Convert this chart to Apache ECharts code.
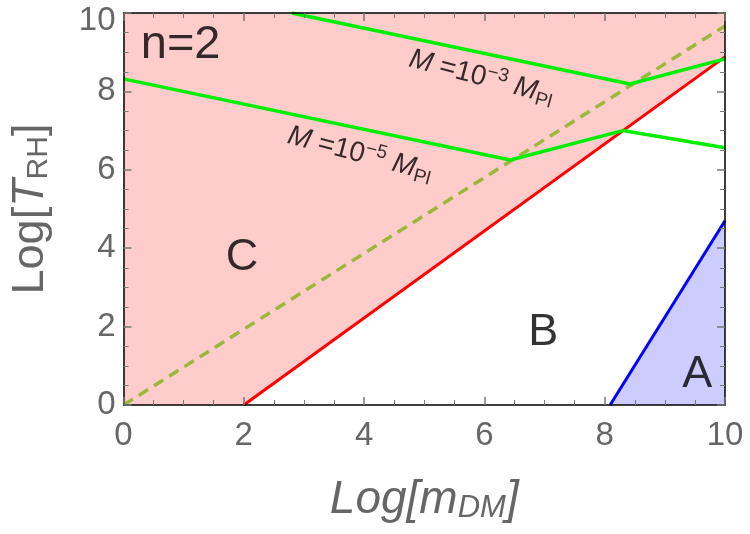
<!DOCTYPE html>
<html lang="en">
<head>
<meta charset="UTF-8">
<title>n=2</title>
<script src="https://cdn.jsdelivr.net/npm/echarts@6/dist/echarts.min.js"></script>
<style>
    html, body { margin: 0; padding: 0; background: #fff; }
    #chart { width: 750px; height: 534px; }
</style>
</head>
<body>
<div id="chart"></div>
<script>
// tick values
var xTicks = [0, 2, 4, 6, 8, 10];
var yTicks = [0, 2, 4, 6, 8, 10];

// boundary lines, points are [Log m_DM, Log T_RH]
var redLine = [[2, 0], [10, 8.88]];
var dashedLine = [[0, 0], [10, 9.67]];
var blueLine = [[8.09, 0], [10, 4.7]];
var greenM5 = [[0, 8.32], [6.43, 6.25], [8.3, 7.0], [10, 6.56]];
var greenM3 = [[2.8, 10], [8.42, 8.19], [10, 8.83]];
var topEdge = [[0, 10], [10, 10]];

// text annotations (anchor in data units)
var regionNames = ['n=2', 'C', 'B', 'A'];
var regionAt = [[0.95, 9.18], [1.97, 3.75], [6.98, 1.84], [9.54, 0.77]];
var massNames = ['{it|M} =10{sup|\u22125} {it|M}{sub|Pl}', '{it|M} =10{sup|\u22123} {it|M}{sub|Pl}'];
var massAt = [[3.93, 6.4], [5.95, 8.36]];

var font = 'Liberation Sans, Arial, sans-serif';
var gray = '#666';

var chart = echarts.init(document.getElementById('chart'));

function axisBase(pos, showLabel) {
    return {
        type: 'value',
        position: pos,
        min: 0,
        max: 10,
        interval: 2,
        z: 10,
        axisLine: { show: true, onZero: false, lineStyle: { color: '#000', width: 1.5 } },
        axisTick: { show: true, inside: true, length: 8, lineStyle: { color: '#777', width: 1.5 } },
        minorTick: { show: true, splitNumber: 4, length: 5, lineStyle: { color: '#777', width: 1 } },
        splitLine: { show: false },
        axisLabel: {
            show: showLabel,
            fontFamily: font,
            fontSize: 33,
            color: gray
        }
    };
}

var xBottom = axisBase('bottom', true);
xBottom.axisLabel.margin = 14;
xBottom.name = 'Log[{it|m}{sub|DM}]';
xBottom.nameLocation = 'middle';
xBottom.nameGap = 72;
xBottom.nameTextStyle = {
    fontFamily: font, fontSize: 46, fontStyle: 'italic', color: gray,
    rich: {
        it: { fontFamily: font, fontSize: 46, fontStyle: 'italic', color: gray },
        sub: { fontFamily: font, fontSize: 31, fontStyle: 'italic', color: gray, verticalAlign: 'bottom', padding: [16, 0, 0, 0] }
    }
};

var yLeft = axisBase('left', true);
yLeft.axisLabel.margin = 8;
yLeft.axisLabel.formatter = function (v) { return v === 10 ? '{top|10}' : String(v); };
yLeft.axisLabel.rich = { top: { fontFamily: font, fontSize: 33, color: gray, padding: [16, 0, 0, 0] } };
yLeft.name = 'Log[{it|T}{sub|RH}]';
yLeft.nameLocation = 'middle';
yLeft.nameGap = 70;
yLeft.nameRotate = 90;
yLeft.nameTextStyle = {
    fontFamily: font, fontSize: 45, color: gray,
    rich: {
        it: { fontFamily: font, fontSize: 45, fontStyle: 'italic', color: gray },
        sub: { fontFamily: font, fontSize: 30, color: gray, verticalAlign: 'bottom', padding: [16, 0, 0, 0] }
    }
};

function lineSeries(data, color, width, type) {
    return {
        type: 'line', data: data, showSymbol: false, silent: true, z: 4,
        lineStyle: { color: color, width: width, type: type || 'solid' }
    };
}

function areaSeries(data, fill, z) {
    return {
        type: 'line', data: data, showSymbol: false, silent: true, z: z,
        lineStyle: { width: 0 },
        areaStyle: { color: fill, opacity: 1 }
    };
}

var textData = regionNames.map(function (t, i) {
    return {
        value: regionAt[i],
        label: { formatter: t, fontSize: i === 0 ? 47 : 45 }
    };
}).concat(massNames.map(function (t, i) {
    return {
        value: massAt[i],
        label: { formatter: t, fontSize: 28, rotate: -14.7 }
    };
}));

chart.setOption({
    animation: false,
    backgroundColor: '#fff',
    grid: { left: 121, right: 25, top: 13, bottom: 129 },
    xAxis: [xBottom, axisBase('top', false)],
    yAxis: [yLeft, axisBase('right', false)],
    series: [
        areaSeries(topEdge, '#ffcccc', 1),
        areaSeries(redLine, '#ffffff', 2),
        areaSeries(blueLine, '#ccccff', 3),
        lineSeries(dashedLine, '#9ab83a', 3.5, [11, 7]),
        lineSeries(redLine, '#ff0000', 3),
        lineSeries(blueLine, '#0000ff', 3),
        lineSeries(greenM5, '#00ee00', 3.5),
        lineSeries(greenM3, '#00ee00', 3.5),
        {
            type: 'scatter', data: textData, symbolSize: 0, silent: true, z: 6,
            label: {
                show: true, position: 'inside', color: '#000', fontFamily: font,
                rich: {
                    it: { fontFamily: font, fontSize: 28, fontStyle: 'italic', color: '#000' },
                    sup: { fontFamily: font, fontSize: 19, color: '#000', verticalAlign: 'top', padding: [0, 0, 14, 0] },
                    sub: { fontFamily: font, fontSize: 19, color: '#000', verticalAlign: 'bottom', padding: [12, 0, 0, 0] }
                }
            }
        }
    ]
});
</script>
</body>
</html>
